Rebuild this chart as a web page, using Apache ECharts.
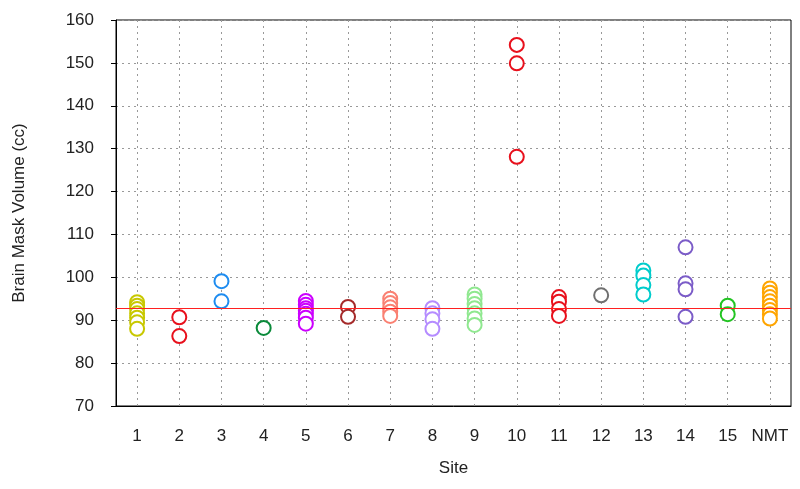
<!DOCTYPE html>
<html>
<head>
<meta charset="utf-8">
<script src="https://cdn.jsdelivr.net/npm/echarts@6/dist/echarts.min.js"></script>
<style>
	html, body { margin: 0; padding: 0; background: #fff; }
	#chart { width: 800px; height: 489px; }
</style>
</head>
<body>
<div id="chart"></div>
<script>
var sites = ['1','2','3','4','5','6','7','8','9','10','11','12','13','14','15','NMT'];

// brain mask volumes (cc) per site
var site1 = [94.2, 93.4, 92.6, 91.6, 90.6, 89.5, 88.0];
var site2 = [90.7, 86.3];
var site3 = [99.1, 94.4];
var site4 = [88.2];
var site5 = [94.5, 93.6, 92.8, 92.2, 91.5, 90.6, 89.2];
var site6 = [93.1, 90.8];
var site7 = [95.0, 94.0, 93.0, 92.0, 91.0];
var site8 = [92.8, 91.6, 90.2, 88.0];
var site9 = [96.0, 95.0, 93.8, 92.8, 91.6, 90.4, 88.9];
var site10 = [154.2, 149.9, 128.1];
var site11 = [95.4, 94.3, 92.6, 91.0];
var site12 = [95.8];
var site13 = [101.6, 100.4, 98.2, 96.0];
var site14 = [107.0, 98.6, 97.2, 90.8];
var site15 = [93.4, 91.4];
var siteNMT = [97.4, 96.4, 95.4, 94.4, 93.4, 92.4, 91.4, 90.4];

var allSites = [site1, site2, site3, site4, site5, site6, site7, site8,
	site9, site10, site11, site12, site13, site14, site15, siteNMT];

var meanLine = 92.9;

var colors = ['#c8c800','#e8101c','#1e8cf0','#0a8a3a','#cc00ff','#a52a2a','#fa8072','#b58cff',
	'#90e890','#e8101c','#e8101c','#707070','#00cccc','#7b5cc8','#22c422','#ffa500'];

var seriesList = allSites.map(function (vals, i) {
	return {
		type: 'scatter',
		symbol: 'emptyCircle',
		symbolSize: 14,
		itemStyle: { color: colors[i], borderWidth: 1.4, opacity: 1 },
		data: vals.map(function (v) { return [sites[i], v]; }),
		z: 3
	};
});

seriesList.push({
	type: 'line',
	data: [],
	markLine: {
		silent: true,
		symbol: 'none',
		label: { show: false },
		lineStyle: { color: '#ff2020', width: 1.2, type: 'solid' },
		data: [{ yAxis: meanLine }]
	},
	z: 2
});

var chart = echarts.init(document.getElementById('chart'));
chart.setOption({
	animation: false,
	backgroundColor: '#fff',
	grid: {
		left: 116, right: 9, top: 20, bottom: 83,
		show: true, borderColor: '#000', borderWidth: 1
	},
	xAxis: {
		type: 'category',
		data: sites,
		boundaryGap: true,
		name: 'Site',
		nameLocation: 'middle',
		nameGap: 54,
		nameTextStyle: { fontFamily: 'Liberation Sans', fontSize: 17, color: '#222' },
		axisLine: { lineStyle: { color: '#000' } },
		axisTick: { alignWithLabel: true, length: 5, lineStyle: { color: '#000' } },
		axisLabel: { fontFamily: 'Liberation Sans', fontSize: 17, color: '#222', margin: 22, interval: 0 },
		splitLine: { show: true, alignWithLabel: true, lineStyle: { color: '#999', type: [2, 4] } }
	},
	yAxis: {
		type: 'value',
		min: 70, max: 160, interval: 10,
		name: 'Brain Mask Volume (cc)',
		nameLocation: 'middle',
		nameGap: 88,
		nameTextStyle: { fontFamily: 'Liberation Sans', fontSize: 17, color: '#222' },
		axisLine: { show: true, lineStyle: { color: '#000' } },
		axisTick: { show: true, length: 5, lineStyle: { color: '#000' } },
		axisLabel: { fontFamily: 'Liberation Sans', fontSize: 17, color: '#222', margin: 22 },
		splitLine: { show: true, lineStyle: { color: '#999', type: [2, 4] } }
	},
	series: seriesList
});
</script>
</body>
</html>
